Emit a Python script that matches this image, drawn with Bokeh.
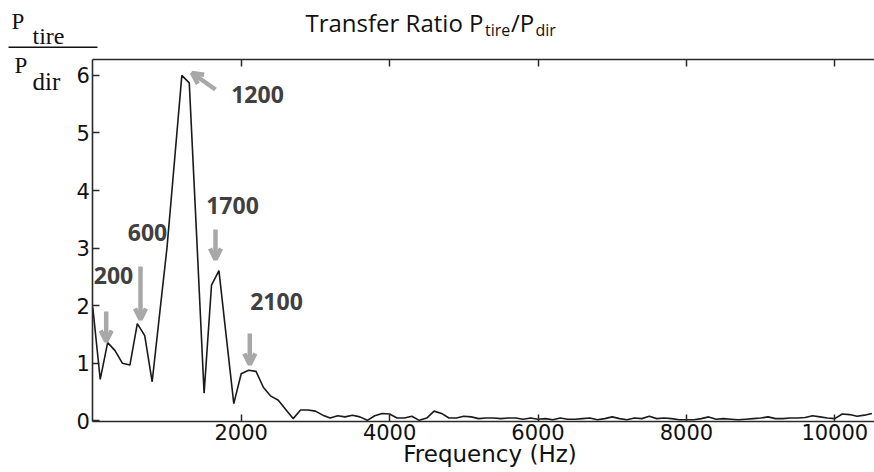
from bokeh.plotting import figure
from bokeh.models import Label, Arrow, OpenHead, Range1d, FixedTicker, LinearAxis
from bokeh.embed import file_html
from bokeh.resources import INLINE

# ---- data ----
freq_hz = [
    0, 100, 200, 300, 400, 500, 600, 700, 800, 900,
    1000, 1100, 1200, 1300, 1400, 1500, 1600, 1700, 1800, 1900,
    2000, 2100, 2200, 2300, 2400, 2500, 2600, 2700, 2800, 2900,
    3000, 3100, 3200, 3300, 3400, 3500, 3600, 3700, 3800, 3900,
    4000, 4100, 4200, 4300, 4400, 4500, 4600, 4700, 4800, 4900,
    5000, 5100, 5200, 5300, 5400, 5500, 5600, 5700, 5800, 5900,
    6000, 6100, 6200, 6300, 6400, 6500, 6600, 6700, 6800, 6900,
    7000, 7100, 7200, 7300, 7400, 7500, 7600, 7700, 7800, 7900,
    8000, 8100, 8200, 8300, 8400, 8500, 8600, 8700, 8800, 8900,
    9000, 9100, 9200, 9300, 9400, 9500, 9600, 9700, 9800, 9900,
    10000, 10100, 10200, 10300, 10400, 10500,
]
ratio = [
    1.97, 0.72, 1.36, 1.22, 1.00, 0.97, 1.69, 1.48, 0.68, 1.85,
    3.01, 4.50, 6.00, 5.87, 3.20, 0.48, 2.36, 2.61, 1.45, 0.30,
    0.82, 0.88, 0.86, 0.58, 0.43, 0.36, 0.20, 0.04, 0.19, 0.19,
    0.17, 0.10, 0.05, 0.09, 0.07, 0.10, 0.07, 0.01, 0.09, 0.13,
    0.12, 0.05, 0.05, 0.08, 0.01, 0.05, 0.17, 0.13, 0.05, 0.05,
    0.08, 0.07, 0.04, 0.05, 0.05, 0.04, 0.05, 0.05, 0.03, 0.05,
    0.03, 0.04, 0.02, 0.05, 0.03, 0.03, 0.04, 0.05, 0.02, 0.04,
    0.07, 0.04, 0.02, 0.05, 0.04, 0.08, 0.04, 0.05, 0.04, 0.02,
    0.02, 0.02, 0.04, 0.07, 0.03, 0.04, 0.03, 0.02, 0.03, 0.04,
    0.05, 0.07, 0.04, 0.04, 0.05, 0.05, 0.06, 0.09, 0.07, 0.05,
    0.04, 0.12, 0.11, 0.08, 0.10, 0.13,
]
x_ticks = [2000, 4000, 6000, 8000, 10000]
y_ticks = [0, 1, 2, 3, 4, 5, 6]
peak_labels = ["200", "600", "1200", "1700", "2100"]

# visible plotting box (data units) and where it sits on the canvas (px)
XA, XB = 0, 10535
YA, YB = -0.01, 6.276
PX_L, PX_R = 92.3, 874.0
PY_T, PY_B = 59.0, 421.0
W, H = 874, 472


def dx(px):
    return XA + (px - PX_L) / (PX_R - PX_L) * (XB - XA)


def dy(py):
    return YA + (PY_B - py) / (PY_B - PY_T) * (YB - YA)


p = figure(width=W, height=H, output_backend="svg", toolbar_location=None,
           x_range=Range1d(dx(0), dx(W)), y_range=Range1d(dy(H), dy(0)),
           min_border=0, min_border_left=0, min_border_right=0,
           min_border_top=0, min_border_bottom=0,
           background_fill_color="white", border_fill_color="white",
           outline_line_color=None)
p.title.visible = False
p.grid.visible = False

p.line(freq_hz, ratio, line_color="#1a1a1a", line_width=1.6)

AX_COL = "#2a2a2a"


def style_axis(ax):
    ax.axis_line_color = AX_COL
    ax.axis_line_width = 1.6
    ax.major_tick_line_color = AX_COL
    ax.major_tick_line_width = 1.5
    ax.major_tick_in = 7
    ax.major_tick_out = 0
    ax.minor_tick_line_color = None
    ax.major_label_text_font = "DejaVu Sans"
    ax.major_label_text_font_size = "21px"
    ax.major_label_text_color = "#111111"


xax = p.xaxis[0]
style_axis(xax)
xax.ticker = FixedTicker(ticks=x_ticks)
xax.fixed_location = YA
xax.bounds = (XA, XB)
xax.major_label_standoff = 2

yax = p.yaxis[0]
style_axis(yax)
yax.ticker = FixedTicker(ticks=y_ticks)
yax.fixed_location = XA
yax.bounds = (YA, YB)
yax.major_label_standoff = 3

top = LinearAxis(ticker=FixedTicker(ticks=x_ticks))
style_axis(top)
top.major_label_text_color = None
top.fixed_location = YB
top.bounds = (XA, XB)
p.add_layout(top, "above")

# ---- peak annotations ----
ARROW_COL = "#a8a8a8"
arrows = [
    ((105.7, 311), (105.7, 341)),
    ((140.0, 266), (140.0, 319)),
    ((215.0, 89), (191.5, 72.5)),
    ((215.0, 229), (215.0, 259)),
    ((249.3, 333), (249.3, 364)),
]
for (sx, sy), (ex, ey) in arrows:
    p.add_layout(Arrow(x_start=dx(sx), y_start=dy(sy), x_end=dx(ex), y_end=dy(ey),
                       line_color=ARROW_COL, line_width=4.5,
                       end=OpenHead(size=11, line_color=ARROW_COL, line_width=4.5)))

label_pos = [(113, 275), (147, 232), (257, 94), (232, 205), (276, 301)]
for txt, (lx, ly) in zip(peak_labels, label_pos):
    p.add_layout(Label(x=dx(lx), y=dy(ly), text=txt, text_font="Open Sans",
                       text_font_style="bold", text_font_size="23px",
                       text_color="#404040", text_align="center",
                       text_baseline="middle"))

# ---- title with subscripts ----
TITLE_FONT = "Open Sans"
title_parts = [
    ("Transfer Ratio P", 305, 21.5, "24px"),
    ("tire", 484.5, 29.5, "16px"),
    ("/P", 510.5, 21.5, "24px"),
    ("dir", 535, 29.5, "16px"),
]
for txt, tx, ty, fs in title_parts:
    p.add_layout(Label(x=dx(tx), y=dy(ty), text=txt, text_font=TITLE_FONT,
                       text_font_size=fs, text_color="#111111",
                       text_align="left", text_baseline="middle"))

# ---- y axis label: fraction P_tire / P_dir ----
SERIF = "Liberation Serif"
frac_parts = [
    ("P", 11, 20.5, "23px"),
    ("tire", 32, 35.5, "24px"),
    ("P", 14, 64.5, "23px"),
    ("dir", 32, 80.5, "25px"),
]
for txt, tx, ty, fs in frac_parts:
    p.add_layout(Label(x=dx(tx), y=dy(ty), text=txt, text_font=SERIF,
                       text_font_size=fs, text_color="#111111",
                       text_align="left", text_baseline="middle"))
p.add_layout(Arrow(x_start=dx(8), y_start=dy(46.7), x_end=dx(97), y_end=dy(46.7),
                   line_color="#111111", line_width=1.5, end=None))

# ---- x axis label ----
p.add_layout(Label(x=dx(489.5), y=dy(453), text="Frequency (Hz)",
                   text_font="DejaVu Sans", text_font_size="23px",
                   text_color="#111111", text_align="center",
                   text_baseline="middle"))

open("out.html", "w").write(file_html(p, INLINE))
